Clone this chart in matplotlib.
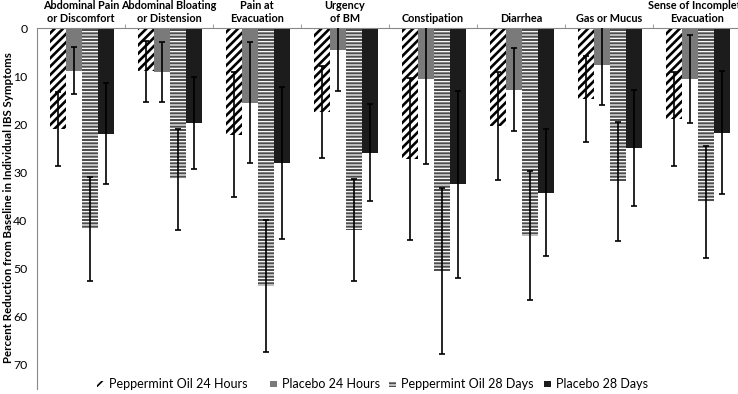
import numpy as np
import matplotlib
matplotlib.use("Agg")
import matplotlib.pyplot as plt
from matplotlib.patches import Rectangle

plt.rcParams['font.family'] = ['Lato', 'DejaVu Sans']

# 症状类别
categories = ["Abdominal Pain\nor Discomfort", "Abdominal Bloating\nor Distension",
              "Pain at\nEvacuation", "Urgency\nof BM", "Constipation", "Diarrhea",
              "Gas or Mucus", "Sense of Incomplete\nEvacuation"]
series_names = ["Peppermint Oil 24 Hours", "Placebo 24 Hours",
                "Peppermint Oil 28 Days", "Placebo 28 Days"]

# percent reduction and error
po_24h = [21.0, 9.0, 22.2, 17.4, 27.2, 20.3, 14.8, 18.9]
po_24h_err = [7.7, 6.4, 13.0, 9.6, 16.9, 11.2, 8.9, 9.8]
pl_24h = [8.9, 9.1, 15.5, 4.6, 10.5, 12.8, 7.6, 10.6]
pl_24h_err = [4.9, 6.2, 12.5, 8.5, 17.8, 8.6, 8.4, 9.1]
po_28d = [41.8, 31.4, 53.6, 41.9, 50.5, 43.2, 31.9, 36.2]
po_28d_err = [10.8, 10.5, 13.7, 10.6, 17.3, 13.4, 12.4, 11.7]
pl_28d = [22.0, 19.7, 28.0, 25.9, 32.5, 34.2, 25.0, 21.8]
pl_28d_err = [10.5, 9.6, 15.8, 10.0, 19.4, 13.3, 12.1, 12.8]

values = [po_24h, pl_24h, po_28d, pl_28d]
errors = [po_24h_err, pl_24h_err, po_28d_err, pl_28d_err]

fig = plt.figure(figsize=(7.38, 3.94), dpi=100)
ax = fig.add_axes([0.0501, 0.0133, 0.954, 0.9156])

x = np.arange(len(categories))
w = 0.182
offsets = np.array([-1.5, -0.5, 0.5, 1.5]) * w + 0.012

styles = [
    dict(facecolor="white", edgecolor="black", hatch="////", hlw=1.9),
    dict(facecolor="#7a7a7a", edgecolor="#7a7a7a", hatch=None, hlw=1.0),
    dict(facecolor="#4d4d4d", edgecolor="white", hatch="-----", hlw=0.9),
    dict(facecolor="#1c1c1c", edgecolor="#1c1c1c", hatch=None, hlw=1.0),
]

for i, (vals, errs, st) in enumerate(zip(values, errors, styles)):
    with plt.rc_context({"hatch.linewidth": st["hlw"]}):
        bars = ax.bar(x + offsets[i], vals, width=w, facecolor=st["facecolor"],
                      edgecolor=st["edgecolor"], hatch=st["hatch"], linewidth=0,
                      zorder=2)
    for b in bars:
        if hasattr(b, "set_hatch_linewidth"):
            b.set_hatch_linewidth(st["hlw"])
    ax.errorbar(x + offsets[i], vals, yerr=errs, fmt="none", ecolor="black",
                elinewidth=1.2, capsize=2.2, capthick=1.2, zorder=3)

ax.set_xlim(-0.5, len(categories) - 0.5)
ax.set_ylim(75, 0)
ax.set_yticks(np.arange(0, 71, 10))
ax.tick_params(axis="y", length=0, pad=7, labelsize=8.8)

ax.xaxis.tick_top()
ax.set_xticks(x)
ax.set_xticklabels(categories, fontweight="bold", fontsize=7.8, linespacing=1.25)
ax.set_xticks(np.arange(0.5, len(categories) - 0.5, 1), minor=True)
ax.tick_params(axis="x", which="major", length=0, pad=3)
ax.tick_params(axis="x", which="minor", length=3, color="#888888", direction="out")

for side in ["right", "bottom"]:
    ax.spines[side].set_visible(False)
for side in ["left", "top"]:
    ax.spines[side].set_color("#888888")
    ax.spines[side].set_linewidth(0.8)

fig.text(0.011, 0.472, "Percent Reduction from Baseline in Individual IBS Symptoms",
         rotation=90, ha="center", va="center", fontsize=8.3, fontweight="bold")

# legend, laid out by hand like the original
leg_x = [97, 270, 389, 544]
W, H = 738.0, 394.0
for lx, name, st in zip(leg_x, series_names, styles):
    with plt.rc_context({"hatch.linewidth": min(st["hlw"], 1.2)}):
        r = Rectangle((lx / W, (H - 387) / H), 6.5 / W, 6.5 / H, transform=fig.transFigure,
                      facecolor=st["facecolor"], edgecolor=st["edgecolor"],
                      hatch=st["hatch"], linewidth=0)
    fig.add_artist(r)
    fig.text((lx + 12) / W, (H - 384) / H, name, ha="left", va="center", fontsize=9)

fig.savefig("out.png", dpi=100)
